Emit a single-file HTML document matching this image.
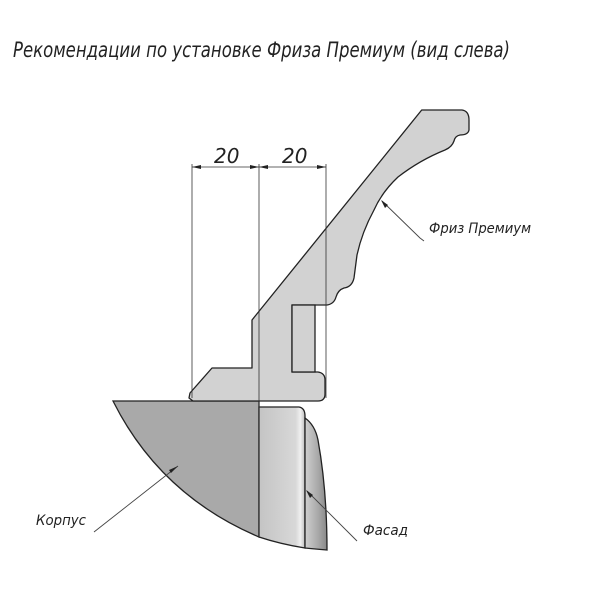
<!DOCTYPE html>
<html><head><meta charset="utf-8"><style>
html,body{margin:0;padding:0;background:#fff;width:600px;height:600px;overflow:hidden}
text{font-family:"DejaVu Sans","Liberation Sans",sans-serif;font-style:oblique;fill:#222}
</style></head><body>
<svg width="600" height="600" viewBox="0 0 600 600" xmlns="http://www.w3.org/2000/svg">
<defs>
<linearGradient id="fg" x1="0" x2="1"><stop offset="0" stop-color="#c4c4c4"/><stop offset="0.8" stop-color="#d8d8d8"/><stop offset="0.9" stop-color="#f0f0f0"/><stop offset="1" stop-color="#bdbdbd"/></linearGradient>
<linearGradient id="fg2" x1="0" x2="1"><stop offset="0" stop-color="#d0d0d0"/><stop offset="0.6" stop-color="#a8a8a8"/><stop offset="1" stop-color="#888"/></linearGradient>
</defs>
<text x="13" y="57" font-size="21" textLength="497" lengthAdjust="spacingAndGlyphs">Рекомендации по установке Фриза Премиум (вид слева)</text>

<!-- Korpus -->
<path d="M113,401 L259,401 L259,537 Q160,495 113,401 Z" fill="#a9a9a9" stroke="#222" stroke-width="1.3"/>
<!-- Facade -->
<path d="M259,407 L299,407 Q305,408 305,416 L305,548 Q280,544 259,537 Z" fill="url(#fg)" stroke="#222" stroke-width="1.3"/>
<path d="M305,418 Q315,425 318,440 Q327,490 327,550 Q315,549 305,548 Z" fill="url(#fg2)" stroke="#222" stroke-width="1.3"/>

<!-- Frieze -->
<path d="M421.7,110 L462,110 Q469,111 469,120 L469,130 Q468,135 460,135 Q455,136 454,141 Q452,147 445,150 Q420,160 398,177 Q382,192 374,210 Q362,232 357,255 L354,278 Q352,287 344,288 Q338,290 336,297 Q334,304 327,305 L292,305 L292,372 L318,372 Q325,373 325,380 L325,394 Q325,401 318,401 L193,401 L189,398 L190,393 L212,368 L252,368 L252,320 Z" fill="#d2d2d2" stroke="#222" stroke-width="1.3" stroke-linejoin="round"/>
<rect x="292" y="305" width="23" height="67" fill="#d2d2d2" stroke="#222" stroke-width="1.3"/>
<line x1="315" y1="305" x2="325" y2="305" stroke="#fff" stroke-width="0"/>

<!-- dimension lines -->
<g stroke="#333" stroke-width="0.8" fill="none">
<line x1="192" y1="164" x2="192" y2="398"/>
<line x1="259" y1="164" x2="259" y2="537"/>
<line x1="326" y1="164" x2="326" y2="398"/>
<line x1="192" y1="167" x2="326" y2="167"/>
</g>
<g fill="#222">
<path d="M192,167 l9,-2 l0,4 z"/><path d="M259,167 l-9,-2 l0,4 z"/>
<path d="M259,167 l9,-2 l0,4 z"/><path d="M326,167 l-9,-2 l0,4 z"/>
</g>
<text x="214" y="163" font-size="20">20</text>
<text x="282" y="163" font-size="20">20</text>

<!-- leaders -->
<g stroke="#444" stroke-width="0.9" fill="none">
<path d="M382,201 L420,238 L424,241"/>
<line x1="178" y1="466" x2="94" y2="532"/>
<line x1="307" y1="491" x2="357" y2="541"/>
</g>
<g fill="#222">
<path d="M381,200 l4,8 l3,-3 z"/>
<path d="M178,466 l-9,4 l2,3 z"/>
<path d="M306,490 l4,8 l3,-3 z"/>
</g>
<text x="429" y="233" font-size="14" textLength="102" lengthAdjust="spacingAndGlyphs">Фриз Премиум</text>
<text x="36" y="525" font-size="14" textLength="50" lengthAdjust="spacingAndGlyphs">Корпус</text>
<text x="363" y="535" font-size="14" textLength="45" lengthAdjust="spacingAndGlyphs">Фасад</text>
</svg>
</body></html>
